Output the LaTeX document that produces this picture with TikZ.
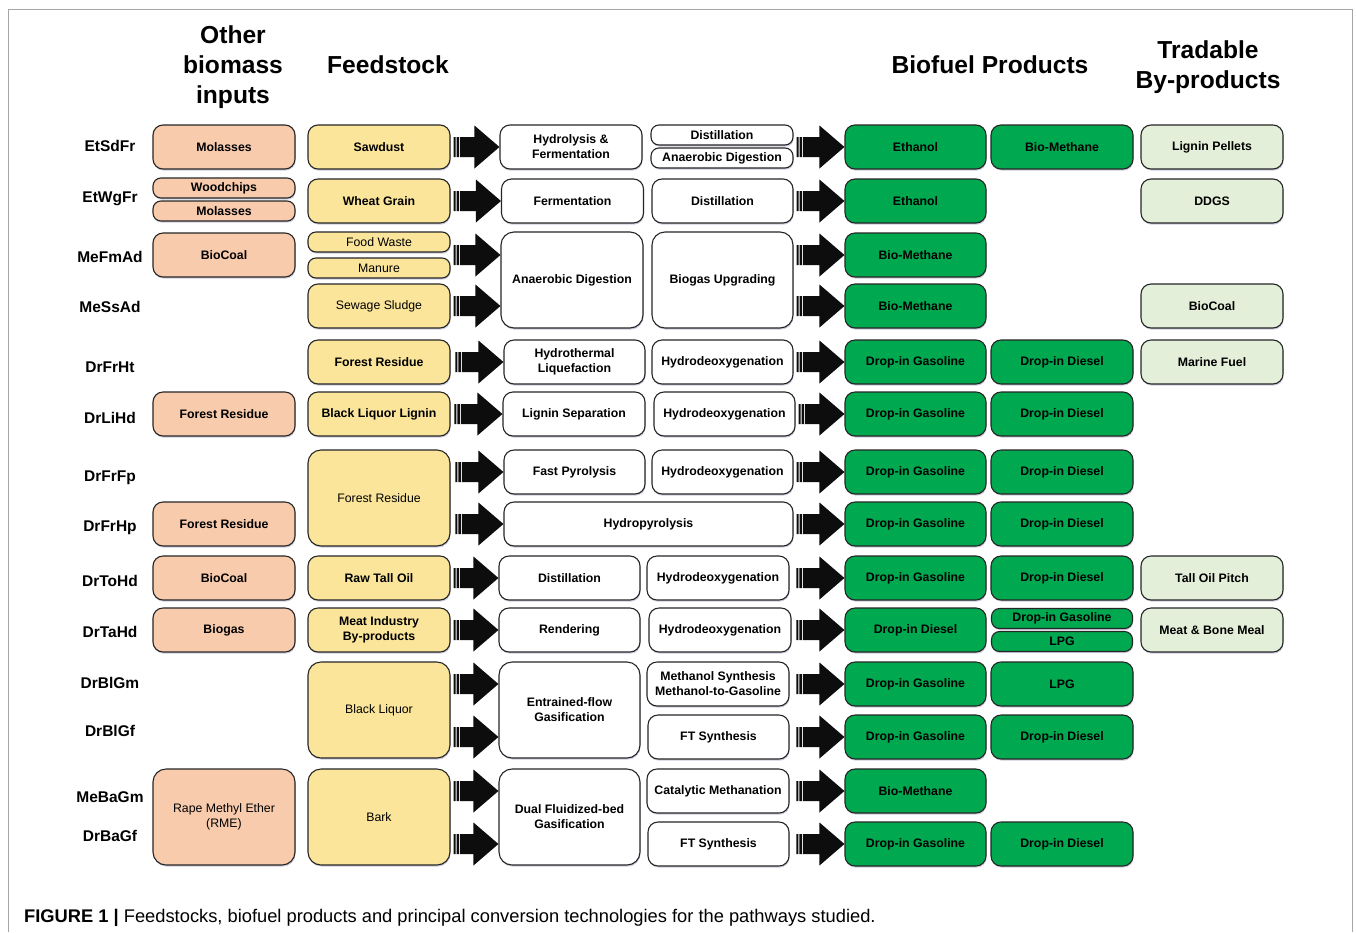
\documentclass[tikz,border=0pt]{standalone}
\usepackage{fontspec}
\setmainfont{Liberation Sans}
\usetikzlibrary{calc,shadows}

\definecolor{othercol}{HTML}{F8CBAD}
\definecolor{feedcol}{HTML}{FAE59A}
\definecolor{fuelcol}{HTML}{00A850}
\definecolor{bypcol}{HTML}{E3EFD9}
\newcommand{\boxfont}{\fontsize{12.3}{15}\selectfont}

\begin{document}
\begin{tikzpicture}[x=1pt,y=-1pt]
\tikzstyle{box}=[
	rectangle,
	rounded corners=10pt,
	draw=black!85, line width=1.1pt,
	minimum width=142pt, minimum height=44pt,
	inner sep=0pt, align=center,
	font=\boxfont\bfseries,
	drop shadow={shadow xshift=0.6pt, shadow yshift=-1.6pt, opacity=0.2, fill=black!60!blue} ]
\tikzstyle{other}=[box, fill=othercol]
\tikzstyle{feed}=[box, fill=feedcol]
\tikzstyle{proc}=[box, fill=white]
\tikzstyle{fuel}=[box, fill=fuelcol]
\tikzstyle{byp}=[box, fill=bypcol]
\tikzstyle{half}=[minimum height=20pt, rounded corners=8pt]
\tikzstyle{tall}=[minimum height=96pt, rounded corners=13pt]
\tikzstyle{plain}=[font=\boxfont]
\tikzstyle{rowlab}=[font=\fontsize{15.5}{18}\selectfont\bfseries]
\tikzstyle{head}=[font=\fontsize{24.6}{30}\selectfont\bfseries, align=center]
\tikzstyle{blockarrow}=[fill=black!95]

\fill[white] (0,0) rectangle (1356,932);
\useasboundingbox (0,0) rectangle (1356,932);
\draw[gray!70, line width=1pt] (8,932) -- (8,9) -- (1352,9) -- (1352,932);

% column heads
\node[head] (hOther) at (233,67) {Other\\biomass\\inputs};
\node[head] (hFeed) at (388,65) {Feedstock};
\node[head] (hFuel) at (990,65) {Biofuel Products};
\node[head] (hByp) at (1208,67) {Tradable\\By-products};

% pathway codes
\node[rowlab] (lEtSdFr) at (110,146) {EtSdFr};
\node[rowlab] (lEtWgFr) at (110,199) {EtWgFr};
\node[rowlab] (lMeFmAd) at (110,257) {MeFmAd};
\node[rowlab] (lMeSsAd) at (110,307) {MeSsAd};
\node[rowlab] (lDrFrHt) at (110,367) {DrFrHt};
\node[rowlab] (lDrLiHd) at (110,418) {DrLiHd};
\node[rowlab] (lDrFrFp) at (110,478) {DrFrFp};
\node[rowlab] (lDrFrHp) at (110,528) {DrFrHp};
\node[rowlab] (lDrToHd) at (110,581) {DrToHd};
\node[rowlab] (lDrTaHd) at (110,632) {DrTaHd};
\node[rowlab] (lDrBlGm) at (110,683) {DrBlGm};
\node[rowlab] (lDrBlGf) at (110,731) {DrBlGf};
\node[rowlab] (lMeBaGm) at (110,797) {MeBaGm};
\node[rowlab] (lDrBaGf) at (110,836) {DrBaGf};

% other biomass inputs
\node[other] (oMol) at (224,147) {Molasses};
\node[other, half] (oWood) at (224,188) {Woodchips};
\node[other, half] (oMol2) at (224,211) {Molasses};
\node[other] (oCoal) at (224,255) {BioCoal};
\node[other] (oFr) at (224,414) {Forest Residue};
\node[other] (oFr2) at (224,524) {Forest Residue};
\node[other] (oCoal2) at (224,578) {BioCoal};
\node[other] (oGas) at (224,630) {Biogas};
\node[other, tall, plain] (oRme) at (224,817) {Rape Methyl Ether\\(RME)};

% feedstocks
\node[feed] (fSaw) at (379,147) {Sawdust};
\node[feed] (fWheat) at (379,201) {Wheat Grain};
\node[feed, half, plain] (fFood) at (379,242) {Food Waste};
\node[feed, half, plain] (fMan) at (379,268) {Manure};
\node[feed, plain] (fSew) at (379,306) {Sewage Sludge};
\node[feed] (fFr) at (379,362) {Forest Residue};
\node[feed] (fBll) at (379,414) {Black Liquor Lignin};
\node[feed, tall, plain] (fFr2) at (379,498) {Forest Residue};
\node[feed] (fTall) at (379,578) {Raw Tall Oil};
\node[feed] (fMeat) at (379,630) {Meat Industry\\By-products};
\node[feed, tall, plain] (fBl) at (379,710) {Black Liquor};
\node[feed, tall, plain] (fBark) at (379,817) {Bark};

% first conversion step
\node[proc] (pHydFer) at (571,147) {Hydrolysis \&\\Fermentation};
\node[proc] (pFerm) at (572.5,201) {Fermentation};
\node[proc, tall] (pAd) at (572,280) {Anaerobic Digestion};
\node[proc, minimum width=141pt] (pHtl) at (574.5,362) {Hydrothermal\\Liquefaction};
\node[proc] (pLig) at (574,414) {Lignin Separation};
\node[proc, minimum width=141pt] (pFp) at (574.5,472) {Fast Pyrolysis};
\node[proc, minimum width=289pt] (pHp) at (648.5,524) {Hydropyrolysis};
\node[proc, minimum width=141pt] (pDist) at (569.5,578) {Distillation};
\node[proc, minimum width=141pt] (pRend) at (569.5,630) {Rendering};
\node[proc, tall, minimum width=141pt] (pEf) at (569.5,710) {Entrained-flow\\Gasification};
\node[proc, tall, minimum width=141pt] (pDfb) at (569.5,817) {Dual Fluidized-bed\\Gasification};

% second conversion step
\node[proc, half] (qDist) at (722,135) {Distillation};
\node[proc, half] (qAd) at (722,158) {Anaerobic Digestion};
\node[proc, minimum width=141pt] (qDist2) at (722.5,201) {Distillation};
\node[proc, tall, minimum width=141pt] (qBgu) at (722.5,280) {Biogas Upgrading};
\node[proc, minimum width=141pt] (qHdoA) at (722.5,362) {Hydrodeoxygenation};
\node[proc, minimum width=141pt] (qHdoB) at (724.5,414) {Hydrodeoxygenation};
\node[proc, minimum width=141pt] (qHdoC) at (722.5,472) {Hydrodeoxygenation};
\node[proc] (qHdoD) at (718,578) {Hydrodeoxygenation};
\node[proc] (qHdoE) at (720,630) {Hydrodeoxygenation};
\node[proc] (qMts) at (718,684) {Methanol Synthesis\\Methanol-to-Gasoline};
\node[proc, minimum width=141pt] (qFtA) at (718.5,737) {FT Synthesis};
\node[proc] (qCm) at (718,791) {Catalytic Methanation};
\node[proc, minimum width=141pt] (qFtB) at (718.5,844) {FT Synthesis};

% biofuel products
\node[fuel, minimum width=141pt] (uEth) at (915.5,147) {Ethanol};
\node[fuel] (vBm) at (1062,147) {Bio-Methane};
\node[fuel, minimum width=141pt] (uEth2) at (915.5,201) {Ethanol};
\node[fuel, minimum width=141pt] (uBm) at (915.5,255) {Bio-Methane};
\node[fuel, minimum width=141pt] (uBm2) at (915.5,306) {Bio-Methane};
\node[fuel, minimum width=141pt] (uGasA) at (915.5,362) {Drop-in Gasoline};
\node[fuel] (vDslA) at (1062,362) {Drop-in Diesel};
\node[fuel, minimum width=141pt] (uGasB) at (915.5,414) {Drop-in Gasoline};
\node[fuel] (vDslB) at (1062,414) {Drop-in Diesel};
\node[fuel, minimum width=141pt] (uGasC) at (915.5,472) {Drop-in Gasoline};
\node[fuel] (vDslC) at (1062,472) {Drop-in Diesel};
\node[fuel, minimum width=141pt] (uGasD) at (915.5,524) {Drop-in Gasoline};
\node[fuel] (vDslD) at (1062,524) {Drop-in Diesel};
\node[fuel, minimum width=141pt] (uGasE) at (915.5,578) {Drop-in Gasoline};
\node[fuel] (vDslE) at (1062,578) {Drop-in Diesel};
\node[fuel, minimum width=141pt] (uDsl) at (915.5,630) {Drop-in Diesel};
\node[fuel, half, minimum width=141pt] (vGas) at (1062,618.5) {Drop-in Gasoline};
\node[fuel, half, minimum width=141pt] (vLpg) at (1062,641.5) {LPG};
\node[fuel, minimum width=141pt] (uGasF) at (915.5,684) {Drop-in Gasoline};
\node[fuel] (vLpg2) at (1062,684) {LPG};
\node[fuel, minimum width=141pt] (uGasG) at (915.5,737) {Drop-in Gasoline};
\node[fuel] (vDslG) at (1062,737) {Drop-in Diesel};
\node[fuel, minimum width=141pt] (uBm3) at (915.5,791) {Bio-Methane};
\node[fuel, minimum width=141pt] (uGasH) at (915.5,844) {Drop-in Gasoline};
\node[fuel] (vDslH) at (1062,844) {Drop-in Diesel};

% tradable by-products
\node[byp] (bLig) at (1212,147) {Lignin Pellets};
\node[byp] (bDdgs) at (1212,201) {DDGS};
\node[byp] (bCoal) at (1212,306) {BioCoal};
\node[byp] (bMar) at (1212,362) {Marine Fuel};
\node[byp] (bPitch) at (1212,578) {Tall Oil Pitch};
\node[byp] (bMbm) at (1212,630) {Meat \& Bone Meal};

% striped block arrows
\foreach \s/\t/\r in {fSaw/pHydFer/uEth, fWheat/pFerm/uEth2, fFood/pAd/uBm, fSew/pAd/uBm2,
	fFr/pHtl/uGasA, fBll/pLig/uGasB, fFr2/pFp/uGasC, fFr2/pHp/uGasD,
	fTall/pDist/uGasE, fMeat/pRend/uDsl, fBl/pEf/uGasF, fBl/pEf/uGasG,
	fBark/pDfb/uBm3, fBark/pDfb/uGasH,
	qDist/uEth/uEth, qDist2/uEth2/uEth2, qBgu/uBm/uBm, qBgu/uBm2/uBm2,
	qHdoA/uGasA/uGasA, qHdoB/uGasB/uGasB, qHdoC/uGasC/uGasC, pHp/uGasD/uGasD,
	qHdoD/uGasE/uGasE, qHdoE/uDsl/uDsl, qMts/uGasF/uGasF, qFtA/uGasG/uGasG,
	qCm/uBm3/uBm3, qFtB/uGasH/uGasH}
  \fill[blockarrow] let \p1=(\s.east), \p2=(\t.west |- \r.west),
		\n1={max(\x1+3pt,\x2-48pt)} in
	(\n1,\y2-10pt) rectangle (\n1+2pt,\y2+10pt)
	(\n1+3pt,\y2-10pt) rectangle (\n1+5.5pt,\y2+10pt)
	(\n1+6.5pt,\y2-10pt) -- (\x2-25pt,\y2-10pt) -- (\x2-25pt,\y2-21.5pt)
	-- (\x2,\y2) -- (\x2-25pt,\y2+21.5pt) -- (\x2-25pt,\y2+10pt)
	-- (\n1+6.5pt,\y2+10pt) -- cycle;

% caption
\node[anchor=base west, inner sep=0pt, font=\fontsize{18.3}{21}\selectfont] (cap) at (24,922)
	{\textbf{FIGURE 1 |} Feedstocks, biofuel products and principal conversion technologies for the pathways studied.};
\end{tikzpicture}
\end{document}
